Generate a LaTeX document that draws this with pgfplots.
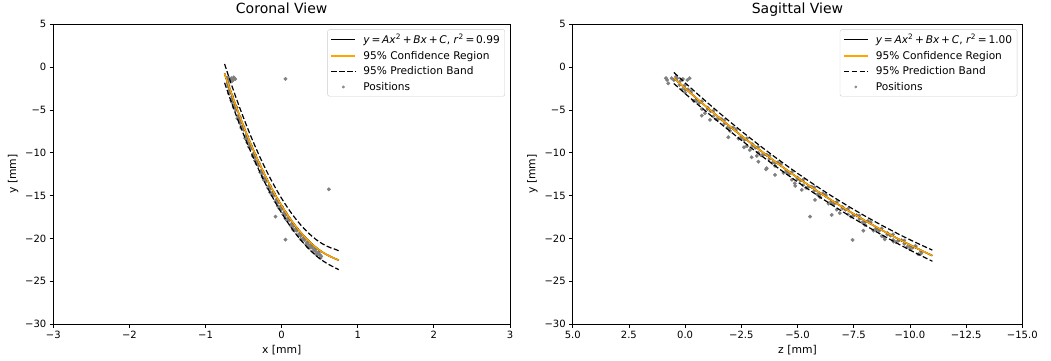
\documentclass[border=0pt]{standalone}
\usepackage{fontspec}
\setmainfont{DejaVu Sans}
\usepackage{pgfplots}
\pgfplotsset{compat=1.18}

\definecolor{mplorange}{HTML}{FFA500}
\definecolor{mplgray}{HTML}{808080}
\definecolor{legframe}{HTML}{CCCCCC}

\pgfplotsset{
  mystyle/.style={
    scale only axis,
    clip marker paths=true,
    height=299.7pt,
    ymin=-30, ymax=5,
    ytick={-30,-25,-20,-15,-10,-5,0,5},
    yticklabels={−30,−25,−20,−15,−10,−5,0,5},
    tick align=outside,
    tick pos=left,
    major tick length=3.5pt,
    every tick/.style={black, line width=0.8pt},
    axis line style={line width=0.8pt},
    tick label style={font=\fontsize{10}{12}\selectfont},
    label style={font=\fontsize{10.8}{13}\selectfont},
    title style={font=\fontsize{14}{16}\selectfont, at={(0.5,1)}, anchor=base, yshift=5pt},
    legend cell align=left,
    legend style={at={(0.989,0.983)}, anchor=north east, draw=legframe,
      rounded corners=2pt, fill=white, fill opacity=0.8, text opacity=1,
      font=\fontsize{10.6}{12.5}\selectfont, inner xsep=3pt, inner ysep=2.5pt,
      row sep=2pt, nodes={inner sep=2pt}},
  },
  fitline/.style={black, line width=1.5pt, forget plot},
  confline/.style={mplorange, line width=1.5pt, forget plot},
  predline/.style={black, line width=1.2pt, dash pattern=on 5.2pt off 2.4pt, forget plot},
  pts/.style={only marks, color=mplgray, mark=*, mark size=1.8pt, mark options={solid, draw=mplgray, fill=mplgray, line width=0.3pt}, forget plot},
}

\newcommand{\legendentries}[1]{%
  \addlegendimage{legend image code/.code={\path[draw=none,fill=none] (0pt,0pt)--(30pt,0pt); \draw[black,line width=1.5pt] (0pt,0pt)--(24pt,0pt);}}
  \addlegendentry{\textit{y}\,=\,\textit{Ax}\textsuperscript{2}\,+\,\textit{Bx}\,+\,\textit{C}, \textit{r}\textsuperscript{2}\,=\,#1}
  \addlegendimage{legend image code/.code={\path[draw=none,fill=none] (0pt,0pt)--(30pt,0pt); \draw[mplorange,line width=1.5pt] (0pt,0pt)--(24pt,0pt);}}
  \addlegendentry{95\% Confidence Region}
  \addlegendimage{legend image code/.code={\path[draw=none,fill=none] (0pt,0pt)--(30pt,0pt); \draw[black,line width=1.3pt,dash pattern=on 5.5pt off 2.4pt] (0pt,0pt)--(24pt,0pt);}}
  \addlegendentry{95\% Prediction Band}
  \addlegendimage{legend image code/.code={\path[draw=none,fill=none] (0pt,0pt)--(30pt,0pt); \fill[mplgray] (12pt,0pt) circle (1.2pt);}}
  \addlegendentry{Positions}
}

\begin{document}
\begin{tikzpicture}
\useasboundingbox (0,0) rectangle (1051pt,360pt);

% ---------------- Coronal view ----------------
\begin{axis}[mystyle,
  at={(53.3pt,36pt)}, anchor=south west,
  width=456.7pt,
  xmin=-3, xmax=3,
  xtick={-3,-2,-1,0,1,2,3},
  xticklabels={−3,−2,−1,0,1,2,3},
  xlabel={x [mm]}, ylabel={y [mm]},
  title={Coronal View},
]
\legendentries{0.99}
\addplot[pts] table {
-0.72 -1.3
-0.70 -1.2
-0.68 -1.4
-0.66 -1.3
-0.64 -1.5
-0.62 -1.3
-0.63 -1.2
-0.65 -1.6
-0.61 -1.4
-0.67 -1.5
-0.69 -1.6
-0.71 -1.9
-0.70 -2.3
-0.69 -2.7
-0.68 -2.9
-0.69 -3.1
-0.65 -3.7
-0.66 -3.9
-0.62 -4.4
-0.63 -4.7
-0.60 -5.0
-0.59 -4.7
-0.57 -5.7
-0.58 -6.0
-0.55 -6.2
-0.52 -6.9
-0.53 -7.1
-0.50 -7.3
-0.47 -8.0
-0.48 -8.3
-0.45 -8.4
-0.42 -9.1
-0.43 -9.3
-0.40 -9.5
-0.37 -10.1
-0.38 -10.4
-0.35 -10.5
-0.32 -11.1
-0.33 -11.3
-0.30 -11.5
-0.27 -12.1
-0.28 -12.3
-0.25 -12.4
-0.22 -13.0
-0.23 -13.2
-0.20 -13.3
-0.17 -13.9
-0.18 -14.1
-0.15 -14.2
-0.12 -14.7
-0.13 -14.9
-0.10 -15.0
-0.07 -15.5
-0.08 -15.7
-0.05 -15.8
-0.02 -16.3
-0.03 -16.5
0.00 -16.6
0.03 -17.0
0.02 -17.2
0.05 -17.3
0.08 -17.7
0.07 -17.9
0.10 -17.9
0.13 -18.3
0.12 -18.5
0.15 -18.6
0.18 -18.9
0.17 -19.1
0.20 -19.1
0.23 -19.5
0.22 -19.7
0.25 -19.7
0.28 -20.0
0.27 -20.2
0.30 -20.2
0.33 -20.5
0.32 -20.7
0.35 -20.7
0.38 -20.9
0.37 -21.1
0.40 -21.1
0.43 -21.3
0.42 -21.5
0.45 -21.5
0.48 -21.7
0.47 -21.9
0.50 -21.9
0.52 -22.1
0.51 -22.3
-0.70 -2.15
-0.65 -3.42
-0.60 -4.66
-0.55 -5.85
-0.50 -7.00
-0.45 -8.12
-0.40 -9.19
-0.35 -10.22
-0.30 -11.21
-0.25 -12.16
-0.20 -13.07
-0.15 -13.94
-0.10 -14.76
-0.05 -15.55
0.00 -16.29
0.05 -16.99
0.10 -17.66
0.15 -18.28
0.20 -18.86
0.25 -19.40
0.30 -19.90
0.35 -20.36
0.40 -20.78
0.45 -21.16
0.50 -21.50
-0.65 -4.12
-0.55 -6.55
-0.45 -8.82
-0.35 -10.92
-0.25 -12.86
-0.15 -14.64
-0.05 -16.25
0.05 -17.69
0.15 -18.98
0.25 -20.10
0.35 -21.06
0.45 -21.86
0.05 -1.38
0.62 -14.27
-0.08 -17.46
0.05 -20.15
};
\addplot[predline] table {
-0.75 0.37
-0.70 -0.982
-0.65 -2.282
-0.60 -3.55
-0.55 -4.766
-0.50 -5.944
-0.45 -7.08
-0.40 -8.169
-0.35 -9.216
-0.30 -10.22
-0.25 -11.182
-0.20 -12.102
-0.15 -12.98
-0.10 -13.806
-0.05 -14.599
0.00 -15.34
0.05 -16.039
0.10 -16.706
0.15 -17.32
0.20 -17.892
0.25 -18.422
0.30 -18.91
0.35 -19.356
0.40 -19.759
0.45 -20.12
0.50 -20.439
0.55 -20.706
0.60 -20.93
0.65 -21.122
0.70 -21.262
0.75 -21.45
};
\addplot[predline] table {
-0.75 -1.83
-0.70 -3.118
-0.65 -4.358
-0.60 -5.57
-0.55 -6.734
-0.50 -7.866
-0.45 -8.96
-0.40 -10.011
-0.35 -11.024
-0.30 -12.00
-0.25 -12.938
-0.20 -13.838
-0.15 -14.70
-0.10 -15.514
-0.05 -16.301
0.00 -17.04
0.05 -17.741
0.10 -18.414
0.15 -19.04
0.20 -19.628
0.25 -20.178
0.30 -20.69
0.35 -21.164
0.40 -21.601
0.45 -22.00
0.50 -22.361
0.55 -22.674
0.60 -22.95
0.65 -23.198
0.70 -23.42
0.75 -23.65
};
\addplot[fitline] table {
-0.75 -0.73
-0.70 -2.05
-0.65 -3.32
-0.60 -4.56
-0.55 -5.75
-0.50 -6.905
-0.45 -8.02
-0.40 -9.09
-0.35 -10.12
-0.30 -11.11
-0.25 -12.06
-0.20 -12.97
-0.15 -13.84
-0.10 -14.66
-0.05 -15.45
0.00 -16.19
0.05 -16.89
0.10 -17.56
0.15 -18.18
0.20 -18.76
0.25 -19.30
0.30 -19.80
0.35 -20.26
0.40 -20.68
0.45 -21.06
0.50 -21.40
0.55 -21.69
0.60 -21.94
0.65 -22.16
0.70 -22.36
0.75 -22.55
};
\addplot[confline] table {
-0.75 -0.73
-0.70 -2.05
-0.65 -3.32
-0.60 -4.56
-0.55 -5.75
-0.50 -6.905
-0.45 -8.02
-0.40 -9.09
-0.35 -10.12
-0.30 -11.11
-0.25 -12.06
-0.20 -12.97
-0.15 -13.84
-0.10 -14.66
-0.05 -15.45
0.00 -16.19
0.05 -16.89
0.10 -17.56
0.15 -18.18
0.20 -18.76
0.25 -19.30
0.30 -19.80
0.35 -20.26
0.40 -20.68
0.45 -21.06
0.50 -21.40
0.55 -21.69
0.60 -21.94
0.65 -22.16
0.70 -22.36
0.75 -22.55
};
\end{axis}

% ---------------- Sagittal view ----------------
\begin{axis}[mystyle,
  at={(572.7pt,36pt)}, anchor=south west,
  width=449.6pt,
  xmin=-15, xmax=5, x dir=reverse,
  xtick={-15,-12.5,-10,-7.5,-5,-2.5,0,2.5,5},
  xticklabels={−15.0,−12.5,−10.0,−7.5,−5.0,−2.5,0.0,2.5,5.0},
  xlabel={z [mm]}, ylabel={y [mm]},
  title={Sagittal View},
]
\legendentries{1.00}
\addplot[pts] table {
0.85 -1.3
0.80 -1.5
0.75 -1.9
0.60 -1.3
0.50 -1.5
0.35 -1.3
0.20 -1.6
0.10 -1.4
-0.10 -1.5
-0.20 -1.3
0.40 -1.1
0.00 -2.1
0.25 -2.07
0.00 -2.96
-0.25 -2.94
-0.50 -3.97
-0.75 -4.89
-1.00 -4.75
-1.25 -5.76
-1.50 -6.01
-1.75 -6.60
-2.00 -7.44
-2.25 -7.37
-2.50 -8.35
-2.75 -9.22
-3.00 -9.03
-3.25 -9.99
-3.50 -10.19
-3.75 -10.73
-4.00 -11.52
-4.25 -11.40
-4.50 -12.32
-4.75 -13.14
-5.00 -12.90
-5.25 -13.80
-5.50 -13.95
-5.75 -14.44
-6.00 -15.18
-6.25 -15.00
-6.50 -15.88
-6.75 -16.64
-7.00 -16.35
-7.25 -17.20
-7.50 -17.30
-7.75 -17.74
-8.00 -18.42
-8.25 -18.19
-8.50 -19.02
-8.75 -19.73
-9.00 -19.39
-9.25 -20.19
-9.50 -20.24
-9.75 -20.63
-10.00 -21.26
-10.25 -20.98
-10.50 -21.75
0.12 -2.58
-0.13 -2.61
-0.38 -3.94
-0.63 -4.17
-0.88 -5.38
-1.13 -5.14
-1.38 -6.09
-1.63 -6.09
-1.88 -7.08
-2.13 -7.07
-2.38 -8.35
-2.63 -8.52
-2.88 -9.69
-3.13 -9.39
-3.38 -10.30
-3.63 -10.24
-3.88 -11.19
-4.13 -11.12
-4.38 -12.35
-4.63 -12.46
-4.88 -13.58
-5.13 -13.24
-5.38 -14.09
-5.63 -13.98
-5.88 -14.87
-6.13 -14.75
-6.38 -15.93
-6.63 -15.99
-6.88 -17.05
-7.13 -16.66
-7.38 -17.46
-7.63 -17.30
-7.88 -18.14
-8.13 -17.96
-8.38 -19.09
-8.63 -19.10
-8.88 -20.12
-9.13 -19.67
-9.38 -20.42
-9.63 -20.21
-9.88 -21.00
-10.13 -21.08
-10.38 -21.85
0.0 -2.61
-0.5 -3.77
-1.0 -4.90
-1.5 -6.01
-2.0 -7.09
-2.5 -8.15
-3.0 -9.18
-3.5 -10.19
-4.0 -11.17
-4.5 -12.12
-5.0 -13.05
-5.5 -13.95
-6.0 -14.83
-6.5 -15.68
-7.0 -16.50
-7.5 -17.30
-8.0 -18.07
-8.5 -18.82
-9.0 -19.54
-9.5 -20.24
-10.0 -20.91
-10.5 -21.55
-0.25 -2.84
-0.75 -3.99
-1.25 -5.11
-1.75 -6.20
-2.25 -7.27
-2.75 -8.32
-3.25 -9.34
-3.75 -10.33
-4.25 -11.30
-4.75 -12.24
-5.25 -13.15
-5.75 -14.04
-6.25 -14.91
-6.75 -15.74
-7.25 -16.55
-7.75 -17.34
-8.25 -18.10
-8.75 -18.83
-9.25 -19.54
-9.75 -20.23
-10.25 -20.88
-0.74 -5.67
-1.11 -6.16
-1.92 -8.19
-2.62 -9.36
-2.96 -10.53
-3.26 -11.04
-3.63 -11.81
-4.00 -12.59
-4.90 -13.87
-5.19 -14.34
-5.56 -17.46
-5.78 -15.50
-6.52 -17.26
-7.45 -20.18
-7.93 -19.10
-3.19 -10.37
-3.60 -11.93
-8.83 -19.80
-9.27 -20.38
};
\addplot[predline] table {
0.5 -0.62
0.0 -1.835
-0.5 -3.018
-1.0 -4.168
-1.5 -5.296
-2.0 -6.392
-2.5 -7.466
-3.0 -8.507
-3.5 -9.526
-4.0 -10.513
-4.5 -11.467
-5.0 -12.40
-5.5 -13.30
-6.0 -14.177
-6.5 -15.023
-7.0 -15.836
-7.5 -16.627
-8.0 -17.386
-8.5 -18.122
-9.0 -18.826
-9.5 -19.508
-10.0 -20.158
-10.5 -20.775
-11.0 -21.37
};
\addplot[predline] table {
0.5 -1.92
0.0 -3.085
-0.5 -4.222
-1.0 -5.332
-1.5 -6.424
-2.0 -7.488
-2.5 -8.534
-3.0 -9.553
-3.5 -10.554
-4.0 -11.527
-4.5 -12.473
-5.0 -13.40
-5.5 -14.30
-6.0 -15.183
-6.5 -16.037
-7.0 -16.864
-7.5 -17.673
-8.0 -18.454
-8.5 -19.218
-9.0 -19.954
-9.5 -20.672
-10.0 -21.362
-10.5 -22.025
-11.0 -22.67
};
\addplot[fitline] table {
0.5 -1.27
0.0 -2.46
-0.5 -3.62
-1.0 -4.75
-1.5 -5.86
-2.0 -6.94
-2.5 -8.00
-3.0 -9.03
-3.5 -10.04
-4.0 -11.02
-4.5 -11.97
-5.0 -12.90
-5.5 -13.80
-6.0 -14.68
-6.5 -15.53
-7.0 -16.35
-7.5 -17.15
-8.0 -17.92
-8.5 -18.67
-9.0 -19.39
-9.5 -20.09
-10.0 -20.76
-10.5 -21.40
-11.0 -22.02
};
\addplot[confline] table {
0.5 -1.27
0.0 -2.46
-0.5 -3.62
-1.0 -4.75
-1.5 -5.86
-2.0 -6.94
-2.5 -8.00
-3.0 -9.03
-3.5 -10.04
-4.0 -11.02
-4.5 -11.97
-5.0 -12.90
-5.5 -13.80
-6.0 -14.68
-6.5 -15.53
-7.0 -16.35
-7.5 -17.15
-8.0 -17.92
-8.5 -18.67
-9.0 -19.39
-9.5 -20.09
-10.0 -20.76
-10.5 -21.40
-11.0 -22.02
};
\end{axis}
\end{tikzpicture}
\end{document}
